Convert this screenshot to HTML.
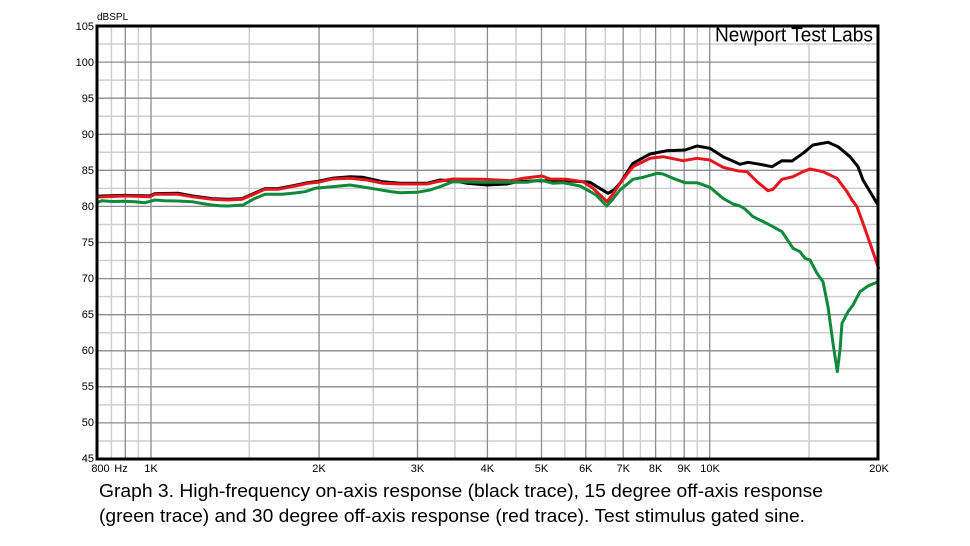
<!DOCTYPE html>
<html><head><meta charset="utf-8">
<style>
html,body{margin:0;padding:0;background:#fff;}
svg{display:block;}
text{font-family:"Liberation Sans",Arial,sans-serif;}
</style></head>
<body>
<svg width="970" height="546" viewBox="0 0 970 546" xmlns="http://www.w3.org/2000/svg">
<rect width="970" height="546" fill="#fff"/>
<!-- minor horizontal lines -->
<g stroke="#cfcfcf" stroke-width="1.5">
<line x1="97" x2="878" y1="44.0" y2="44.0"/>
<line x1="97" x2="878" y1="80.1" y2="80.1"/>
<line x1="97" x2="878" y1="116.2" y2="116.2"/>
<line x1="97" x2="878" y1="152.3" y2="152.3"/>
<line x1="97" x2="878" y1="188.4" y2="188.4"/>
<line x1="97" x2="878" y1="224.5" y2="224.5"/>
<line x1="97" x2="878" y1="260.5" y2="260.5"/>
<line x1="97" x2="878" y1="296.6" y2="296.6"/>
<line x1="97" x2="878" y1="332.7" y2="332.7"/>
<line x1="97" x2="878" y1="368.8" y2="368.8"/>
<line x1="97" x2="878" y1="404.9" y2="404.9"/>
<line x1="97" x2="878" y1="441.0" y2="441.0"/>
</g>
<!-- minor vertical lines -->
<g stroke="#cfcfcf" stroke-width="1.5">
<line y1="26" y2="459" x1="111.4" x2="111.4"/>
<line y1="26" y2="459" x1="138.4" x2="138.4"/>
<line y1="26" y2="459" x1="249.3" x2="249.3"/>
<line y1="26" y2="459" x1="373.3" x2="373.3"/>
<line y1="26" y2="459" x1="454.9" x2="454.9"/>
<line y1="26" y2="459" x1="516" x2="516"/>
<line y1="26" y2="459" x1="564.9" x2="564.9"/>
<line y1="26" y2="459" x1="605.3" x2="605.3"/>
<line y1="26" y2="459" x1="640.4" x2="640.4"/>
<line y1="26" y2="459" x1="670.6" x2="670.6"/>
<line y1="26" y2="459" x1="697.3" x2="697.3"/>
<line y1="26" y2="459" x1="809" x2="809"/>
</g>
<!-- major horizontal lines -->
<g stroke="#8c8c8c" stroke-width="1.3">
<line x1="97" x2="878" y1="62.1" y2="62.1"/>
<line x1="97" x2="878" y1="98.2" y2="98.2"/>
<line x1="97" x2="878" y1="134.3" y2="134.3"/>
<line x1="97" x2="878" y1="170.3" y2="170.3"/>
<line x1="97" x2="878" y1="206.4" y2="206.4"/>
<line x1="97" x2="878" y1="242.5" y2="242.5"/>
<line x1="97" x2="878" y1="278.6" y2="278.6"/>
<line x1="97" x2="878" y1="314.7" y2="314.7"/>
<line x1="97" x2="878" y1="350.8" y2="350.8"/>
<line x1="97" x2="878" y1="386.8" y2="386.8"/>
<line x1="97" x2="878" y1="422.9" y2="422.9"/>
</g>
<!-- major vertical lines -->
<g stroke="#8c8c8c" stroke-width="1.3">
<line y1="26" y2="459" x1="125.3" x2="125.3"/>
<line y1="26" y2="459" x1="151" x2="151"/>
<line y1="26" y2="459" x1="319.1" x2="319.1"/>
<line y1="26" y2="459" x1="417.5" x2="417.5"/>
<line y1="26" y2="459" x1="487.4" x2="487.4"/>
<line y1="26" y2="459" x1="541.5" x2="541.5"/>
<line y1="26" y2="459" x1="585.8" x2="585.8"/>
<line y1="26" y2="459" x1="623.2" x2="623.2"/>
<line y1="26" y2="459" x1="655.6" x2="655.6"/>
<line y1="26" y2="459" x1="684.2" x2="684.2"/>
<line y1="26" y2="459" x1="709.7" x2="709.7"/>
</g>

<!-- Newport label box -->
<rect x="712" y="27.5" width="165" height="15.5" fill="#fff"/>
<text x="715" y="41.7" font-size="20" textLength="158" lengthAdjust="spacingAndGlyphs" fill="#000">Newport Test Labs</text>

<!-- traces -->
<g fill="none" stroke-width="3" stroke-linejoin="round" stroke-linecap="round">
<polyline stroke="#000" points="97,196.3 105,195.9 125,195.4 150,195.9 155,193.6 178,193.2 192,195.9 212,198.6 228,199.3 242,198.6 252,194.3 265,188.6 278,188.6 295,185.3 308,182.6 318,181.3 332,178.3 350,176.7 363,177.3 383,181.7 400,183.3 427,183.3 440,180 453,180.7 467,183.3 487,185 507,184 517,181.7 537,180.7 550,180.7 567,180.7 583,181.7 590,182.3 597,186.7 608,193.3 614,190 620,183.3 633,163.3 650,154 667,150.7 685,150 697,146 710,148.3 723,156.7 740,164.3 748,162.3 760,164.3 772,166.7 782,160.7 792,161 803,153.3 813,145 828,142.3 838,146.7 850,156.7 858,166.7 863,180 872,195 878,205"/>
<polyline stroke="#e8141c" points="97,197 105,196.7 125,196 150,196.7 155,194.3 178,194.3 192,196.7 212,199.3 228,200 242,199.3 252,195 265,189.3 278,189.3 295,186 308,183.3 318,182.3 332,179 350,178.3 367,180 383,183.3 400,184 427,184 437,181.7 453,179 483,179.3 510,180.7 523,178.3 542,176 550,179 567,179.3 583,181.7 593,188.3 601,196 607,201.7 613,194 620,183.3 633,166.7 650,158.3 663,156.7 683,160.7 697,158.3 710,160 723,167.3 737,170.7 747,171.7 757,181.7 768,190.7 773,189.3 782,179.3 793,176.7 803,171.7 810,169 823,171.7 837,178.3 847,191.7 852,200 857,206.7 863,223.3 870,243.3 878.5,268"/>
<polyline stroke="#0e8a3a" points="97,202.7 102,200.7 112,201.5 125,201.3 135,201.8 145,202.7 155,200 165,200.8 178,201 192,201.7 202,203.5 212,205 220,205.8 228,206 243,205 253,199.3 265,194.3 282,194.3 295,193 305,191.7 315,188.3 332,186.7 350,185 363,187 377,189.3 390,191.5 400,192.7 417,192.3 430,190 440,186.7 453,181.7 477,182.3 500,182.3 527,182.3 540,180 553,183.3 563,182.7 580,186 590,191.5 596,195 606.7,206 613,199 620,190 633,179.3 643,177.3 657,173.3 663,174 673,178.3 685,182.7 697,182.7 710,187.3 723,198.3 733,204 740,206 745,209 753,216.7 763,221.5 773,226.7 782,231.7 793,248.3 800,251.7 805,258.3 810,260 817,273.3 823,281.7 828,306.7 833,343.3 837.3,371.7 840,350 842,323.3 848,311.7 853,305 860,291.7 868,286 878,281.7"/>
</g>

<!-- frame -->
<rect x="97" y="26" width="781" height="433" fill="none" stroke="#000" stroke-width="3"/>

<!-- y labels -->
<g font-size="11" text-anchor="end" fill="#000">
<text x="94" y="30">105</text>
<text x="94" y="66">100</text>
<text x="94" y="102">95</text>
<text x="94" y="138">90</text>
<text x="94" y="174">85</text>
<text x="94" y="210">80</text>
<text x="94" y="246">75</text>
<text x="94" y="282">70</text>
<text x="94" y="318">65</text>
<text x="94" y="354">60</text>
<text x="94" y="390">55</text>
<text x="94" y="426">50</text>
<text x="94" y="462">45</text>
</g>
<text x="97" y="20" font-size="10" fill="#000">dBSPL</text>

<!-- x labels -->
<g font-size="11" text-anchor="middle" fill="#000">
<text x="100.5" y="472">800</text>
<text x="121" y="472">Hz</text>
<text x="151" y="472">1K</text>
<text x="319" y="472">2K</text>
<text x="417.5" y="472">3K</text>
<text x="487.4" y="472">4K</text>
<text x="541.5" y="472">5K</text>
<text x="585.8" y="472">6K</text>
<text x="623.2" y="472">7K</text>
<text x="655.6" y="472">8K</text>
<text x="684.2" y="472">9K</text>
<text x="710" y="472">10K</text>
<text x="879" y="472">20K</text>
</g>

<!-- caption -->
<text x="99" y="497" font-size="18.5" textLength="724" lengthAdjust="spacingAndGlyphs" fill="#000">Graph 3. High-frequency on-axis response (black trace), 15 degree off-axis response</text>
<text x="99" y="522" font-size="18.5" textLength="706" lengthAdjust="spacingAndGlyphs" fill="#000">(green trace) and 30 degree off-axis response (red trace). Test stimulus gated sine.</text>
</svg>
</body></html>
